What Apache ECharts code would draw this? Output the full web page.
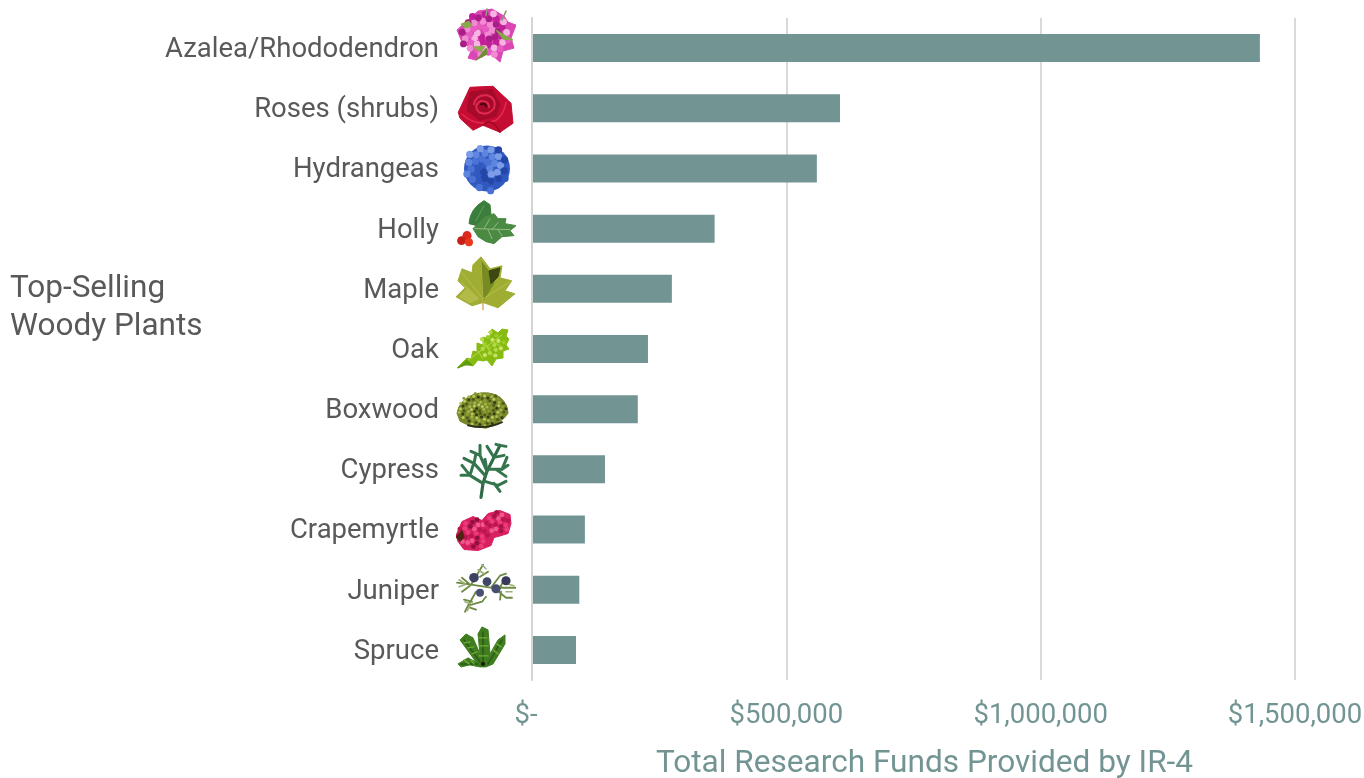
<!DOCTYPE html>
<html><head><meta charset="utf-8">
<style>html,body{margin:0;padding:0;background:#fff}#c{width:1364px;height:778px}</style>
<script src="https://cdn.jsdelivr.net/npm/echarts@6/dist/echarts.min.js"></script>
</head><body><div id="c"></div>
<script>
const categories = ["Azalea/Rhododendron","Roses (shrubs)","Hydrangeas","Holly","Maple","Oak","Boxwood","Cypress","Crapemyrtle","Juniper","Spruce"];
const funds = [1431000,605500,560000,359000,275000,228000,208000,143500,104000,93000,86500];
const tickValues = [0,500000,1000000,1500000];
const tickLabels = ["$-","$500,000","$1,000,000","$1,500,000"];
const yTitle = "Top-Selling\nWoody Plants";
const xTitle = "Total Research Funds Provided by IR-4";

// Small hand-drawn plant pictures (60 x 80 box, row centre at y=40)
const c=(x,y,r,f)=>`<circle cx="${x}" cy="${y}" r="${r}" fill="${f}"/>`;
const p=(d,f)=>`<path d="${d}" fill="${f}" stroke="${f}" stroke-width="1" stroke-linejoin="round"/>`;
const l=(d,s,w)=>`<path d="${d}" fill="none" stroke="${s}" stroke-width="${w}" stroke-linecap="round" stroke-linejoin="round"/>`;
// decorative texture: dots on a sunflower spiral inside an ellipse
const speck=(cx,cy,rx,ry,n,r,cols)=>{let s='';for(let i=0;i<n;i++){const a=i*2.39996,k=Math.sqrt((i+.5)/n);s+=c((cx+rx*k*Math.cos(a)).toFixed(1),(cy+ry*k*Math.sin(a)).toFixed(1),r,cols[i%cols.length]);}return s;};
const icons = [
  // azalea
  p("M12 12L22 3 36 1 48 8 52 14 60 17 55 30 58 40 47 43 44 54 35 46 26 47 20 52 12 50 16 41 6 34 1 22Z","#db45b4")
  +speck(29,26,25,22,46,3.4,["#f08ad2","#c01f97","#e65cc0","#a91d86","#f7b3e2"])
  +p("M5 16L13 13 16 18 9 20Z","#8aa84a")+p("M40 22L50 28 57 32 47 31Z","#86a845")+p("M17 39L29 38 25 44Z","#8fa94d")+p("M20 52L31 46 30 40 23 49Z","#6f8f35")+l("M30 7L31 1M46 12L50 3","#8d9a78",1.6),
  // rose
  p("M2.3 44L14 19 37 18 52 32 55 35 57 55 44 64 27 57 17 62 4 50Z","#c50d33")
  +p("M14 24L36 21 44 36 40 48 24 52 11 42Z","#a50a2a")
  +l("M18 36Q20 26 31 27 41 30 38 40 32 48 23 44 17 38 24 33 33 32 33 39 28 42","#e02a4f",2)
  +l("M25 36Q29 34 30 38","#4f0312",2.4)+l("M6 46Q22 60 40 52 48 46 50 34","#e2294f",1.6)+l("M27 57Q36 48 44 64","#97071f",1.4),
  // hydrangea
  c(31,40,23,"#315ac2")+speck(31,40,22,23,34,3.6,["#5f86de","#2446a8","#4a72d4","#7b9ce6","#3058bd"]),
  // holly
  p("M13 35Q14 20 28 12L34 16 35 26 25 38Z","#3a7d3d")+p("M17 40L28 29 38 25 42 30 50 30 49 35 60 37 54 42 58 47 46 48 38 55 30 53 22 48Z","#4b8a42")
  +l("M19 40L54 41M28 40L34 30M36 41L42 34M32 41L36 50M42 41L46 47","#9cc08f",.9)+l("M20 32L28 17","#6aa262",.9)
  +c(11,47,4.6,"#dc2a1c")+c(5.5,52,4.4,"#c82015")+c(13,53.5,4,"#e8391f"),
  // maple
  p("M25 8L34 20 46 17 44 29 55.7 32 49 42 59 45 42 59 28 54 26 54 16 57 0 48 9 39 2 32 6 20 16 24 17 16Z","#a0ad33")
  +p("M25 12L33 23 42 21 37 36 27 52Z","#788a22")+p("M33 22L44 19 42 28 35 35Z","#3c4711")+p("M5 33L23 50 14 54 3 48 11 40Z","#b2bb47")
  +l("M27 52L27 61","#d8964a",1.2)+l("M27 52L25 12M27 50L6 24M27 50L54 33","#c2c658",.7),
  // oak
  p("M1 59L11 49 15 50 17 42 21 43 21 34 27 36 27 28 33 30 36 20 42 24 46 20 52 21 50 27 53 30 50 36 53 40 47 42 47 49 40 50 36 57 31 51 27 52 22 51 17 57 10 55Z","#86bb12")
  +speck(36,36,13,13,16,2.1,["#b6d94a","#9ccb23","#c8e36a"])+l("M3 58L46 26M22 42L27 50M30 36L36 46M36 32L46 38M28 38L27 30","#b8d84a",1)+p("M2 59L11 51 16 56 9 56Z","#5d9a0c"),
  // boxwood
  p("M1 44Q3 31 18 25 33 21 44 28 52 35 52 44 46 54 30 59 12 57 4 52Z","#77872a")
  +speck(26,40,24,17,90,1.5,["#a9b84a","#4d5a1c","#c0c860","#8c9b33","#333c14"])+l("M12 56Q30 61 46 53","#2c3217",2),
  // cypress
  l("M25 68L27 54 31 42 38 28 44 16","#2d6a45",3.2)
  +l("M27 54L14 46 5 46M14 46L6 36M14 46L17 36M29 46L18 34 8 29M18 34L20 24M31 42L24 26 24 16M24 26L15 22M31 42L29 30M32 40L46 40 52 36M40 40L50 47M46 40L51 28M38 28L48 26M38 28L31 17M44 16L50 17M44 16L40 15M29 52L42 56 50 52M38 54L44 62","#35754e",3),
  // crapemyrtle
  p("M0 46L6 32 17 27 26 31 32 24 44 21 54 25 55 34 52 44 42 47 38 48 35 56 22 61 8 60 2 52Z","#d81f60")
  +speck(18,44,15,15,26,2.4,["#ec3a7a","#b91651","#f0588e","#8f1140"])+speck(42,33,12,11,18,2.4,["#ec3a7a","#b91651","#f0588e","#a81446"])+p("M0 47L6 41 8 48 4 52Z","#4f2412"),
  // juniper
  l("M1 33L15 35 35 38 60 38M15 35L24 20 27 15M35 38L44 26 50 24M38 38L50 48 56 48M20 42L12 56 9 62M12 56L26 52 30 47M24 27L32 22M6 28L13 34M6 42L14 36M44 38L48 30M45 42L44 50M16 52L8 50M14 58L20 60","#6c8a42",1.8)
  +l("M3 30L9 34M3 37L9 35M50 34L58 36M50 42L56 42M22 20L28 24M26 15L30 19M11 61L14 56M9 52L14 54","#9fb07a",1.6)
  +c(18,28,4.8,"#3c4260")+c(31,32,4.4,"#3f4666")+c(50,31,4.6,"#353b58")+c(40,39,4.6,"#474e6f")+c(24,43,4,"#4a5070"),
  // spruce
  p("M2 54L12 48 20 52 4 30 10 24 17 28 24 44 22 24 26 17 32 20 34 44 42 30 49 25 49 34 37 54 30 57 24 57 14 55 5 57Z","#3f7d1f")
  +l("M27 22L27 55M8 30L24 52M46 30L32 54M5 54L22 54","#2a5a16",1.5)+l("M8 33L14 32M12 38L18 37M16 44L21 42M23 28L31 28M23 36L32 36M23 46L32 46M41 34L45 37M37 40L42 44M8 50L13 54M15 50L18 54","#70aa38",1.4)+c(27,54,2.2,"#1f1f0c"),
];
const toUri = s => 'data:image/svg+xml;charset=utf-8,'+encodeURIComponent(`<svg xmlns="http://www.w3.org/2000/svg" width="120" height="160" viewBox="0 0 60 80">${s}</svg>`);

const FONT='Roboto', GREY='#595959', TEAL='#729594';
const rich={t:{fontFamily:FONT,fontSize:27.5,color:GREY,padding:[4,17,0,0]}};
icons.forEach((s,i)=>{rich['i'+i]={width:60,height:80,backgroundColor:{image:toUri(s)}};});

const chart=echarts.init(document.getElementById('c'),null,{renderer:'canvas'});
chart.setOption({
  animation:false,
  backgroundColor:'#fff',
  title:{text:yTitle,left:10,top:270,padding:0,textStyle:{fontFamily:FONT,fontSize:31.5,lineHeight:38,fontWeight:'normal',color:GREY}},
  grid:{left:532,right:69,top:18,bottom:98,containLabel:false,outerBoundsMode:'none'},
  xAxis:{type:'value',min:0,max:1500000,interval:500000,
    name:xTitle,nameLocation:'middle',nameGap:68,
    nameTextStyle:{fontFamily:FONT,fontSize:31.6,color:TEAL,padding:[0,0,0,22]},
    axisLine:{show:false},axisTick:{show:false},
    splitLine:{lineStyle:{color:'#d9d9d9',width:2}},
    axisLabel:{fontFamily:FONT,fontSize:27.5,color:TEAL,margin:22,
      formatter:v=>v===0?`{z|${tickLabels[0]}}`:tickLabels[tickValues.indexOf(v)],
      rich:{z:{fontFamily:FONT,fontSize:27.5,color:TEAL,padding:[0,12,0,0]}}}},
  yAxis:{type:'category',inverse:true,data:categories,z:3,
    axisLine:{show:true,onZero:false,lineStyle:{color:'#d4d4d4',width:2}},axisTick:{show:false},
    axisLabel:{margin:16,interval:0,showMinLabel:true,showMaxLabel:true,hideOverlap:false,
      formatter:(v,i)=>`{t|${v}}{i${i}|}`,rich}},
  series:[{type:'bar',data:funds,barWidth:28,itemStyle:{color:TEAL}}]
});
</script></body></html>
